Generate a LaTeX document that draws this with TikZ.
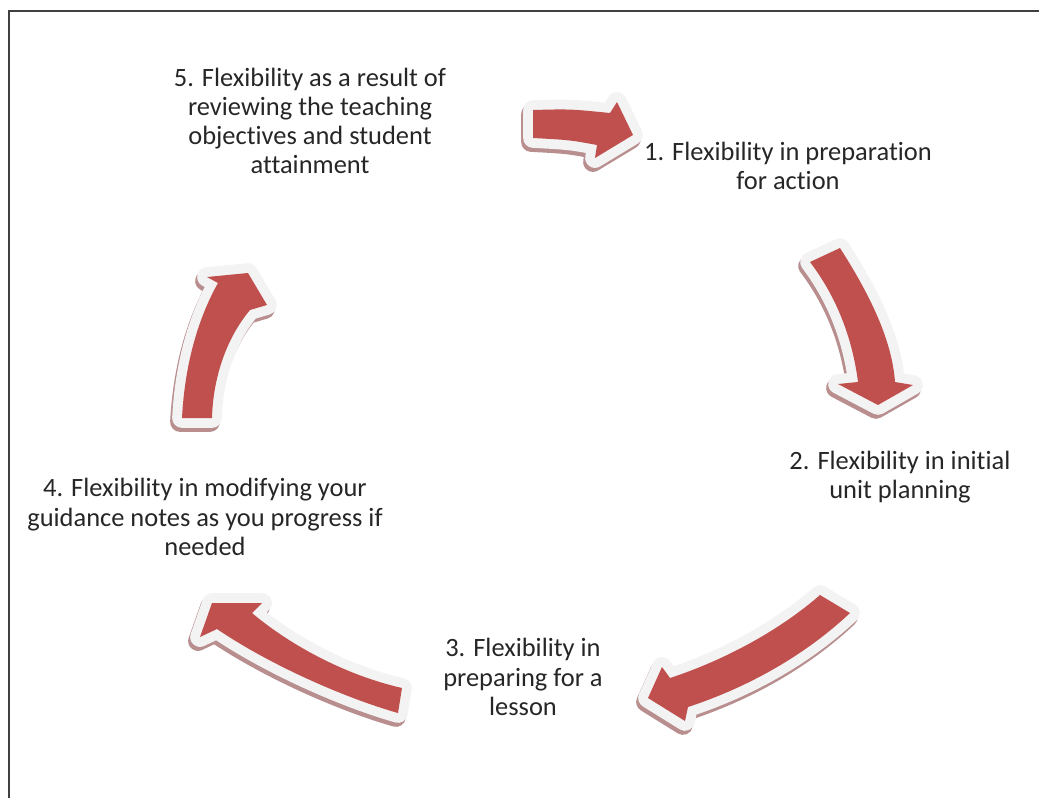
\documentclass[tikz,border=0pt]{standalone}
\usepackage{fontspec}
\setmainfont[Ligatures=NoCommon]{Carlito}
\usepackage{tikz}

\definecolor{arrowred}{HTML}{C0504D}
\definecolor{arrowrim}{HTML}{F3F3F3}
\definecolor{arrowshade}{HTML}{B88E8E}
\definecolor{stagetext}{HTML}{262626}

% one block arrow: shadow, white rim, red body
\newcommand{\cyclearrow}[1]{%
  \filldraw[arrowshade, line width=14, line join=round, shift={(-2,4)}] #1 -- cycle;
  \filldraw[arrowrim, line width=14, line join=round] #1 -- cycle;
  \fill[arrowred] #1 -- cycle;
}

\begin{document}
\begin{tikzpicture}[x=0.025cm, y=-0.025cm,
  stage/.style={align=center, inner sep=0pt, text=stagetext, font=\fontsize{18.8}{20.8}\selectfont}]
\clip (0,0) rectangle (1039,797);

% Frame
\draw[line width=1.5, black!75] (9,11) rectangle (1060,820);

% Arrows, clockwise from the top
\cyclearrow{(533,110) .. controls (570,109) .. (610,113) -- (617,102) -- (633,135) -- (595,158) -- (597,145) .. controls (570,140) .. (533,138)}
\cyclearrow{(810,262) -- (840,248) .. controls (870,295) and (892,340) .. (895,382) -- (913,385) -- (878,405) -- (838,384) -- (858,382) .. controls (852,335) and (835,295) .. (810,262)}
\cyclearrow{(820,595) -- (850,613) .. controls (800,660) and (740,690) .. (688,707) -- (685,721) -- (648,698) -- (662,667) -- (670,678) .. controls (725,660) and (780,630) .. (820,595)}
\cyclearrow{(212,603) -- (262,603) -- (252,613) .. controls (290,645) and (345,675) .. (402,688) -- (398,713) .. controls (345,698) and (270,665) .. (217,629) -- (200,637)}
\cyclearrow{(182,418) -- (212,418) .. controls (213,380) and (225,340) .. (250,310) -- (267,305) -- (248,273) -- (207,277) -- (218,283) .. controls (200,315) and (185,360) .. (182,418)}

% Stage 1
\node[stage] (stage1) at (788,166) {1. Flexibility in preparation\\for action};

% Stage 2
\node[stage] (stage2) at (900,477) {2. Flexibility in initial\\unit planning};

% Stage 3
\node[stage] (stage3) at (523,677) {3. Flexibility in\\preparing for a\\lesson};

% Stage 4
\node[stage] (stage4) at (205,517) {4. Flexibility in modifying your\\guidance notes as you progress if\\needed};

% Stage 5
\node[stage] (stage5) at (310,121) {5. Flexibility as a result of\\reviewing the teaching\\objectives and student\\attainment};

\end{tikzpicture}
\end{document}
